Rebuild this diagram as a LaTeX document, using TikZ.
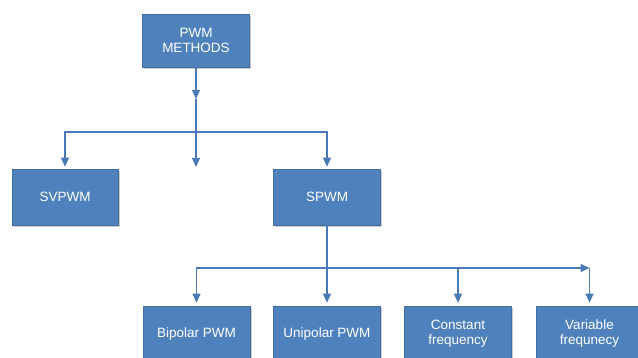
\documentclass[tikz,border=0pt]{standalone}
\usepackage{fontspec}
\setmainfont{Liberation Sans}
\usetikzlibrary{arrows.meta,shadows,positioning}
\definecolor{boxblue}{RGB}{79,129,189}
\definecolor{lineblue}{RGB}{74,122,182}
\tikzset{
  box/.style={rectangle, fill=boxblue, draw=boxblue!85!black, line width=0.6pt,
    text=white, align=center, font=\fontsize{13.5}{15}\selectfont,
    inner sep=0pt,
    drop shadow={shadow xshift=1.5pt, shadow yshift=-2.5pt, opacity=0.35, fill=black!60}},
  conn/.style={draw=lineblue, line width=1.1pt},
  tip/.style={-{Triangle[length=9pt,width=8pt]}},
}
\begin{document}
\begin{tikzpicture}[x=1pt,y=-1pt]
\useasboundingbox (0,0) rectangle (638,358);
\begin{scope}
\clip (0,0) rectangle (638,358);
\node[box, minimum width=107pt, minimum height=53pt] (pwm) at (196,40.5) {PWM\\METHODS};
\node[box, minimum width=106pt, minimum height=56pt] (svpwm) at (65,197) {SVPWM};
\node[box, minimum width=107pt, minimum height=56pt] (spwm) at (327,197) {SPWM};
\node[box, minimum width=107pt, minimum height=56pt] (bip) at (196.5,334) {Bipolar PWM};
\node[box, minimum width=107pt, minimum height=56pt] (uni) at (327,334) {Unipolar PWM};
\node[box, minimum width=107pt, minimum height=56pt] (con) at (458,334) {Constant\\frequency};
\node[box, minimum width=107pt, minimum height=56pt] (var) at (589.5,334) {Variable\\frequnecy};

\coordinate (m1) at (196,99);
\coordinate (j1) at (196,132);
\coordinate (mid) at (196,167);
\coordinate (j2) at (327,268);
\coordinate (ar) at (589.5,268);

\draw[conn,tip] (pwm.south) -- (m1);
\draw[conn] (m1) -- (j1);
\draw[conn,tip] (j1) -- (mid);
\draw[conn,tip,shorten >=2pt] (j1) -| (svpwm.north);
\draw[conn,tip,shorten >=2pt] (j1) -| (spwm.north);

\draw[conn] (spwm.south) -- (j2);
\draw[conn,tip,shorten >=3pt] (j2) -| (bip.north);
\draw[conn,tip,shorten >=3pt] (j2) -- (uni.north);
\draw[conn,tip,shorten >=3pt] (j2) -| (con.north);
\draw[conn,tip] (j2) -- (ar);
\draw[conn,tip,shorten >=3pt] (ar) -- (var.north);
\end{scope}
\end{tikzpicture}
\end{document}
